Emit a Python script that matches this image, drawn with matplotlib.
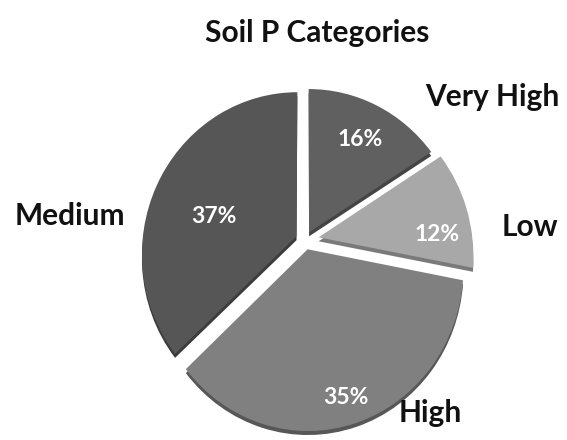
import numpy as np
import matplotlib
matplotlib.use("Agg")
import matplotlib.pyplot as plt
import matplotlib.transforms as mtransforms

# ---- data ----
categories = ["Very High", "Low", "High", "Medium"]
shares = [16, 12, 35, 37]
pct_labels = ["16%", "12%", "35%", "37%"]
title = "Soil P Categories"

# ---- style / layout ----
top_colors = ["#606060", "#a8a8a8", "#808080", "#565656"]
side_colors = ["#444444", "#7a7a7a", "#575757", "#3c3c3c"]
explode = [0.055, 0.09, 0.06, 0.06]
# text positions in image pixels (x, y from top)
cat_pos = [(492, 97), (530, 227), (430, 413), (70, 216)]
pct_pos = [(360, 139), (437, 234), (346, 397), (214, 216)]

W, H = 567, 440
CX, CY = 305, 440 - 240   # pie centre in data coords
R = 154
C = 1.04                  # vertical scale
K = 0.107                 # perspective strength
DEPTH = 4                 # 3D thickness in px
FONT = "Lato"


class Perspective(mtransforms.Transform):
    input_dims = 2
    output_dims = 2
    is_separable = False
    has_inverse = False

    def transform_non_affine(self, xy):
        xy = np.asarray(xy, dtype=float)
        u, v = xy[:, 0], xy[:, 1]
        s = 1.0 / (1.0 + K * v)
        return np.column_stack([CX + R * u * s, CY + R * C * v * s])


fig = plt.figure(figsize=(W / 100, H / 100), dpi=100)
ax = fig.add_axes([0, 0, 1, 1])

persp = Perspective()

# side (thickness) layer
side, _ = ax.pie(shares, explode=explode, colors=side_colors, startangle=90,
                 counterclock=False, radius=1, center=(0, 0),
                 wedgeprops=dict(linewidth=0))
for w in side:
    w.set_transform(persp + mtransforms.Affine2D().translate(0, -DEPTH) + ax.transData)

# top face
wedges, _ = ax.pie(shares, explode=explode, colors=top_colors, startangle=90,
                   counterclock=False, radius=1, center=(0, 0),
                   wedgeprops=dict(linewidth=0))
for w in wedges:
    w.set_transform(persp + ax.transData)

ax.set_xlim(0, W)
ax.set_ylim(0, H)
ax.set_aspect("auto")
ax.axis("off")

for name, (x, y) in zip(categories, cat_pos):
    ax.text(x, H - y, name, ha="center", va="center", fontsize=21.5,
            fontweight="bold", family=FONT, color="#111111")
for lab, (x, y) in zip(pct_labels, pct_pos):
    ax.text(x, H - y, lab, ha="center", va="center", fontsize=16.5,
            fontweight="bold", family=FONT, color="white")

ax.text(317, H - 33, title, ha="center", va="center", fontsize=21.5,
        fontweight="bold", family=FONT, color="#111111")

fig.savefig("out.png", dpi=100)
